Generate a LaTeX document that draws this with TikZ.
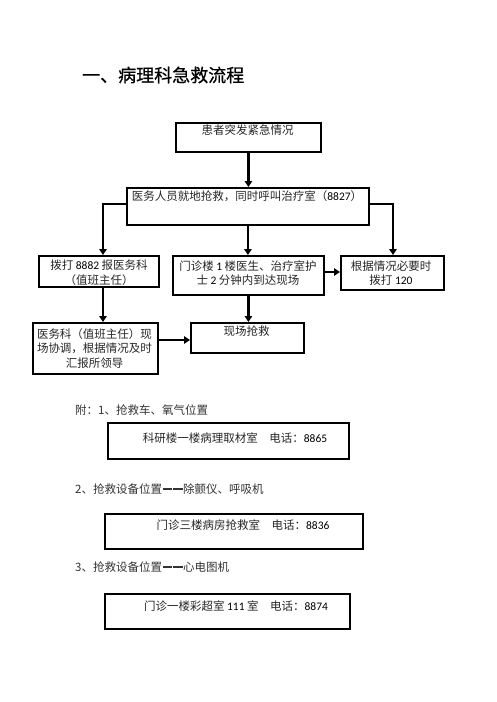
\documentclass[tikz,border=0pt]{standalone}
\usepackage{fontspec}
\newfontfamily\cjk{Noto Sans CJK SC}
\newfontfamily\cjkt[FakeBold=0.6]{Noto Sans CJK SC}
\newfontfamily\lat{Carlito}
\usetikzlibrary{arrows.meta}
\newcommand\dashpair{\hspace{0.5pt}\rule[3.6pt]{9.5pt}{1.7pt}\hspace{1pt}\rule[3.6pt]{9.5pt}{1.7pt}\hspace{0.5pt}}
\tikzset{
  boxst/.style={draw, line width=1.8pt, inner sep=0pt, anchor=north west},
  txt/.style={font=\cjk\fontsize{11.5}{14.5}\selectfont, text=black!85, align=center, inner sep=0pt, anchor=north},
  note/.style={font=\cjk\fontsize{11.5}{13}\selectfont, text=black!80, inner sep=0pt, anchor=west},
  arr/.style={line width=2.2pt, -{Triangle[length=6pt,width=7.5pt]}},
}
\begin{document}
\begin{tikzpicture}[x=1pt,y=-1pt]
\path[use as bounding box] (0,0) rectangle (496,702);
% title
\node[font=\cjkt\fontsize{18}{20}\selectfont, inner sep=0pt, anchor=west] (title) at (82,75) {一、病理科急救流程};
% boxes
\node[boxst, minimum width=145pt, minimum height=29pt] (b1) at (175,122) {};
\node[txt] (t1) at (247.5,125) {患者突发紧急情况};
\node[boxst, minimum width=242pt, minimum height=37pt] (b2) at (126,187) {};
\node[txt] (t2) at (247,190) {医务人员就地抢救，同时呼叫治疗室（{\lat\color{black} 8827}）};
\node[boxst, minimum width=120pt, minimum height=31pt] (b3) at (38,255) {};
\node[txt] (t3) at (99,260) {拨打 {\lat\color{black} 8882} 报医务科\\（值班主任）};
\node[boxst, minimum width=151pt, minimum height=39pt] (b4) at (172,255) {};
\node[txt] (t4) at (248,260.5) {门诊楼 {\lat\color{black} 1} 楼医生、治疗室护\\士 {\lat\color{black} 2} 分钟内到达现场};
\node[boxst, minimum width=103pt, minimum height=34pt] (b5) at (340,255) {};
\node[txt] (t5) at (391,260.5) {根据情况必要时\\拨打 {\lat\color{black} 120}};
\node[boxst, minimum width=125pt, minimum height=51pt] (b6) at (32,322) {};
\node[txt] (t6) at (94.5,328) {医务科（值班主任）现\\场协调，根据情况及时\\汇报所领导};
\node[boxst, minimum width=113pt, minimum height=30pt] (b7) at (190,322) {};
\node[txt] (t7) at (246.5,326) {现场抢救};
% connectors
\draw[arr] (b1.south) -- (b1.south |- b2.north);
\coordinate (lft) at (103,204);
\coordinate (rgt) at (393,204);
\draw[arr] (b2.west |- lft) -- (lft) -- (lft |- b3.north);
\draw[arr] (b2.east |- rgt) -- (rgt) -- (rgt |- b5.north);
\draw[arr] (b2.south) -- (b2.south |- b4.north);
\draw[arr] (b4.east |- 0,272) -- (b5.west |- 0,272);
\draw[arr] (lft |- b3.south) -- (lft |- b6.north);
\draw[arr] (b4.south) -- (b4.south |- b7.north);
\draw[arr] (b6.east |- 0,340) -- (b7.west |- 0,340);
% appendix
\node[note] (n1) at (75,410) {附：1、抢救车、氧气位置};
\node[boxst, minimum width=241pt, minimum height=36pt] (a1) at (107,422) {};
\node[txt, anchor=center] (ta1) at (235,438) {科研楼一楼病理取材室　电话：{\lat\color{black} 8865}};
\node[note] (n2) at (75,489) {2、抢救设备位置\dashpair 除颤仪、呼吸机};
\node[boxst, minimum width=258pt, minimum height=35pt] (a2) at (104,513) {};
\node[txt, anchor=center] (ta2) at (243,525) {门诊三楼病房抢救室　电话：{\lat\color{black} 8836}};
\node[note] (n3) at (75,567) {3、抢救设备位置\dashpair 心电图机};
\node[boxst, minimum width=245pt, minimum height=35pt] (a3) at (104,593) {};
\node[txt, anchor=center] (ta3) at (236,606) {门诊一楼彩超室 {\lat\color{black} 111} 室　电话：{\lat\color{black} 8874}};
\end{tikzpicture}
\end{document}
